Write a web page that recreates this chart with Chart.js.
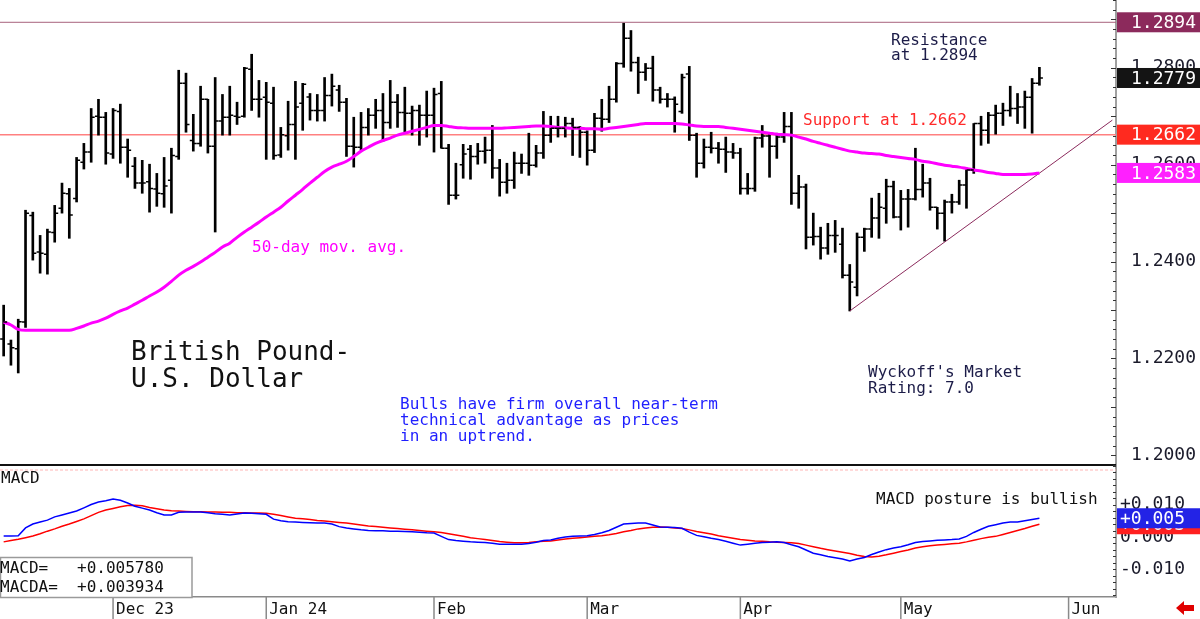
<!DOCTYPE html>
<html>
<head>
<meta charset="utf-8">
<title>British Pound - U.S. Dollar</title>
<script src="https://cdn.jsdelivr.net/npm/chart.js@4.4.1/dist/chart.umd.min.js"></script>
<style>
  html, body { margin: 0; padding: 0; background: #fff; }
</style>
</head>
<body>
<canvas id="myChart" width="1200" height="619"></canvas>
<script>
// ---- datos ---------------------------------------------------------------

// dias habiles desde el 10-nov-2023 (la escala sigue vacia hasta mediados de junio)
const firstDay = '2023-11-10';
const numSlots = 153;
const monthTicks = ['Dec 23', 'Jan 24', 'Feb', 'Mar', 'Apr', 'May', 'Jun'];
const priceTicks = [1.20, 1.22, 1.24, 1.26, 1.28];
const macdTicks = [-0.010, 0.000, 0.010];

const opens = [
  1.2240,1.2230,1.2220,1.2275,1.2495,1.2420,1.2415,1.2460,1.2510,1.2540,
  1.2530,1.2605,1.2626,1.2700,1.2698,1.2622,1.2710,1.2636,1.2597,1.2562,
  1.2565,1.2550,1.2540,1.2568,1.2617,1.2768,1.2650,1.2644,1.2735,1.2638,
  1.2690,1.2698,1.2700,1.2700,1.2797,1.2735,1.2739,1.2727,1.2620,1.2660,
  1.2683,1.2727,1.2740,1.2712,1.2712,1.2743,1.2754,1.2729,1.2638,1.2636,
  1.2677,1.2702,1.2712,1.2687,1.2729,1.2708,1.2706,1.2712,1.2702,1.2702,
  1.2747,1.2634,1.2537,1.2600,1.2632,1.2617,1.2628,1.2630,1.2593,1.2564,
  1.2568,1.2603,1.2603,1.2599,1.2624,1.2661,1.2675,1.2675,1.2685,1.2677,
  1.2667,1.2630,1.2696,1.2694,1.2735,1.2809,1.2861,1.2811,1.2791,1.2799,
  1.2754,1.2735,1.2735,1.2710,1.2787,1.2661,1.2603,1.2636,1.2634,1.2632,
  1.2626,1.2624,1.2551,1.2551,1.2655,1.2659,1.2638,1.2657,1.2679,1.2541,
  1.2554,1.2450,1.2452,1.2428,1.2454,1.2436,1.2372,1.2347,1.2450,1.2467,
  1.2490,1.2510,1.2555,1.2492,1.2529,1.2529,1.2549,1.2562,1.2512,1.2500,
  1.2523,1.2523,1.2558,1.2589,1.2685,1.2671,1.2702,1.2706,1.2712,1.2716,
  1.2719,1.2739,1.2768
];
const highs = [
  1.2310,1.2238,1.2281,1.2506,1.2502,1.2454,1.2467,1.2516,1.2562,1.2551,
  1.2615,1.2644,1.2716,1.2735,1.2708,1.2716,1.2725,1.2653,1.2615,1.2609,
  1.2601,1.2582,1.2615,1.2634,1.2795,1.2789,1.2704,1.2762,1.2735,1.2780,
  1.2745,1.2762,1.2729,1.2801,1.2828,1.2774,1.2770,1.2760,1.2677,1.2731,
  1.2772,1.2768,1.2747,1.2745,1.2780,1.2787,1.2764,1.2737,1.2698,1.2708,
  1.2716,1.2735,1.2747,1.2774,1.2745,1.2760,1.2721,1.2723,1.2752,1.2758,
  1.2772,1.2642,1.2603,1.2642,1.2640,1.2644,1.2657,1.2681,1.2611,1.2603,
  1.2626,1.2622,1.2665,1.2640,1.2710,1.2700,1.2700,1.2698,1.2696,1.2679,
  1.2670,1.2706,1.2735,1.2762,1.2811,1.2892,1.2877,1.2822,1.2809,1.2824,
  1.2760,1.2747,1.2740,1.2787,1.2803,1.2665,1.2653,1.2667,1.2646,1.2657,
  1.2644,1.2634,1.2582,1.2657,1.2681,1.2665,1.2665,1.2708,1.2708,1.2578,
  1.2560,1.2500,1.2471,1.2479,1.2485,1.2469,1.2394,1.2459,1.2469,1.2531,
  1.2541,1.2570,1.2566,1.2547,1.2549,1.2634,1.2601,1.2572,1.2512,1.2527,
  1.2539,1.2568,1.2593,1.2685,1.2700,1.2708,1.2723,1.2727,1.2762,1.2747,
  1.2752,1.2778,1.2801
];
const lows = [
  1.2205,1.2186,1.2170,1.2264,1.2403,1.2376,1.2374,1.2440,1.2500,1.2448,
  1.2523,1.2591,1.2605,1.2661,1.2601,1.2613,1.2603,1.2574,1.2551,1.2541,
  1.2502,1.2514,1.2512,1.2500,1.2611,1.2667,1.2628,1.2638,1.2624,1.2461,
  1.2661,1.2661,1.2683,1.2698,1.2712,1.2698,1.2611,1.2611,1.2615,1.2630,
  1.2611,1.2671,1.2692,1.2690,1.2690,1.2721,1.2710,1.2617,1.2595,1.2630,
  1.2661,1.2675,1.2648,1.2675,1.2677,1.2667,1.2661,1.2640,1.2657,1.2626,
  1.2634,1.2518,1.2529,1.2572,1.2570,1.2601,1.2603,1.2572,1.2535,1.2541,
  1.2551,1.2582,1.2578,1.2595,1.2613,1.2646,1.2657,1.2657,1.2619,1.2615,
  1.2599,1.2625,1.2669,1.2687,1.2729,1.2801,1.2793,1.2747,1.2774,1.2731,
  1.2727,1.2719,1.2667,1.2706,1.2650,1.2574,1.2593,1.2624,1.2603,1.2584,
  1.2613,1.2539,1.2539,1.2545,1.2636,1.2574,1.2613,1.2646,1.2518,1.2510,
  1.2426,1.2434,1.2405,1.2415,1.2419,1.2366,1.2298,1.2329,1.2421,1.2450,
  1.2448,1.2479,1.2490,1.2465,1.2471,1.2527,1.2533,1.2506,1.2467,1.2442,
  1.2500,1.2518,1.2510,1.2582,1.2640,1.2644,1.2663,1.2681,1.2700,1.2685,
  1.2675,1.2665,1.2764
];
const closes = [
  1.2275,1.2222,1.2276,1.2500,1.2417,1.2417,1.2461,1.2500,1.2541,1.2496,
  1.2609,1.2626,1.2698,1.2698,1.2624,1.2712,1.2636,1.2630,1.2562,1.2562,
  1.2551,1.2541,1.2556,1.2619,1.2768,1.2683,1.2644,1.2735,1.2638,1.2690,
  1.2698,1.2702,1.2698,1.2799,1.2735,1.2735,1.2729,1.2619,1.2662,1.2683,
  1.2719,1.2766,1.2712,1.2712,1.2743,1.2762,1.2729,1.2638,1.2636,1.2677,
  1.2702,1.2712,1.2687,1.2729,1.2708,1.2706,1.2712,1.2702,1.2702,1.2745,
  1.2634,1.2537,1.2537,1.2622,1.2617,1.2628,1.2630,1.2593,1.2564,1.2568,
  1.2603,1.2603,1.2599,1.2624,1.2661,1.2675,1.2675,1.2685,1.2677,1.2667,
  1.2630,1.2696,1.2694,1.2735,1.2809,1.2861,1.2811,1.2791,1.2799,1.2754,
  1.2735,1.2735,1.2725,1.2780,1.2661,1.2603,1.2636,1.2634,1.2632,1.2626,
  1.2624,1.2551,1.2551,1.2655,1.2659,1.2638,1.2657,1.2679,1.2541,1.2554,
  1.2450,1.2452,1.2428,1.2454,1.2454,1.2372,1.2358,1.2450,1.2467,1.2490,
  1.2512,1.2555,1.2492,1.2529,1.2529,1.2549,1.2562,1.2512,1.2500,1.2523,
  1.2523,1.2558,1.2589,1.2685,1.2671,1.2702,1.2706,1.2712,1.2716,1.2719,
  1.2739,1.2768,1.2779
];

// media movil de 50 dias
const ma50 = [
  1.2275,1.2269,1.2260,1.2258,1.2258,1.2258,1.2258,1.2258,1.2258,1.2258,
  1.2262,1.2267,1.2273,1.2277,1.2283,1.2291,1.2298,1.2304,1.2312,1.2320,
  1.2329,1.2337,1.2347,1.2359,1.2372,1.2382,1.2390,1.2399,1.2409,1.2419,
  1.2430,1.2438,1.2450,1.2461,1.2471,1.2481,1.2492,1.2502,1.2512,1.2525,
  1.2537,1.2549,1.2562,1.2574,1.2586,1.2595,1.2601,1.2607,1.2617,1.2628,
  1.2636,1.2644,1.2650,1.2655,1.2661,1.2665,1.2669,1.2673,1.2677,1.2681,
  1.2681,1.2679,1.2677,1.2676,1.2675,1.2675,1.2675,1.2675,1.2675,1.2676,
  1.2677,1.2678,1.2679,1.2680,1.2680,1.2679,1.2677,1.2676,1.2675,1.2675,
  1.2674,1.2674,1.2673,1.2675,1.2677,1.2679,1.2681,1.2683,1.2685,1.2685,
  1.2685,1.2685,1.2685,1.2684,1.2682,1.2680,1.2679,1.2679,1.2679,1.2677,
  1.2675,1.2673,1.2671,1.2669,1.2667,1.2665,1.2663,1.2662,1.2661,1.2657,
  1.2653,1.2648,1.2644,1.2640,1.2636,1.2632,1.2628,1.2626,1.2624,1.2623,
  1.2622,1.2619,1.2617,1.2615,1.2613,1.2611,1.2607,1.2605,1.2602,1.2599,
  1.2597,1.2595,1.2592,1.2589,1.2587,1.2584,1.2582,1.2580,1.2580,1.2580,
  1.2580,1.2581,1.2583
];

// MACD (azul) y MACDA (rojo)
const macd = [
  0.0003,0.0003,0.0004,0.0028,0.0040,0.0046,0.0052,0.0062,0.0068,0.0074,
  0.0080,0.0090,0.0100,0.0108,0.0112,0.0117,0.0113,0.0105,0.0095,0.0089,
  0.0083,0.0075,0.0068,0.0068,0.0076,0.0077,0.0077,0.0077,0.0075,0.0072,
  0.0070,0.0068,0.0071,0.0074,0.0073,0.0072,0.0070,0.0055,0.0050,0.0047,
  0.0046,0.0045,0.0044,0.0043,0.0043,0.0040,0.0032,0.0028,0.0025,0.0022,
  0.0020,0.0019,0.0019,0.0018,0.0018,0.0017,0.0016,0.0015,0.0013,0.0012,
  0.0002,-0.0008,-0.0011,-0.0013,-0.0015,-0.0016,-0.0017,-0.0019,-0.0022,-0.0022,
  -0.0022,-0.0022,-0.0020,-0.0016,-0.0011,-0.0009,-0.0004,0.0000,0.0002,0.0003,
  0.0004,0.0008,0.0013,0.0020,0.0030,0.0040,0.0042,0.0043,0.0043,0.0037,
  0.0031,0.0030,0.0029,0.0027,0.0015,0.0005,0.0001,-0.0004,-0.0008,-0.0013,
  -0.0019,-0.0025,-0.0022,-0.0019,-0.0017,-0.0016,-0.0015,-0.0017,-0.0024,-0.0030,
  -0.0040,-0.0050,-0.0055,-0.0060,-0.0064,-0.0068,-0.0074,-0.0068,-0.0063,-0.0054,
  -0.0046,-0.0039,-0.0034,-0.0030,-0.0024,-0.0017,-0.0014,-0.0012,-0.0010,-0.0009,
  -0.0008,-0.0006,0.0002,0.0014,0.0024,0.0033,0.0038,0.0043,0.0046,0.0046,
  0.0050,0.0054,0.005780
];
const macda = [
  -0.0015,-0.0011,-0.0007,-0.0002,0.0003,0.0010,0.0018,0.0025,0.0033,0.0040,
  0.0048,0.0056,0.0066,0.0076,0.0083,0.0088,0.0093,0.0097,0.0098,0.0096,
  0.0091,0.0087,0.0083,0.0081,0.0080,0.0079,0.0078,0.0078,0.0077,0.0077,
  0.0076,0.0076,0.0075,0.0075,0.0074,0.0074,0.0073,0.0070,0.0066,0.0062,
  0.0058,0.0056,0.0054,0.0051,0.0049,0.0047,0.0045,0.0043,0.0040,0.0037,
  0.0034,0.0032,0.0030,0.0028,0.0026,0.0024,0.0022,0.0020,0.0018,0.0016,
  0.0014,0.0010,0.0006,0.0002,-0.0002,-0.0005,-0.0008,-0.0011,-0.0014,-0.0016,
  -0.0018,-0.0018,-0.0017,-0.0015,-0.0013,-0.0012,-0.0009,-0.0006,-0.0004,-0.0002,
  0.0000,0.0002,0.0004,0.0007,0.0011,0.0016,0.0020,0.0025,0.0028,0.0030,
  0.0031,0.0030,0.0028,0.0026,0.0022,0.0017,0.0013,0.0009,0.0004,0.0000,
  -0.0004,-0.0008,-0.0010,-0.0012,-0.0013,-0.0015,-0.0016,-0.0017,-0.0018,-0.0020,
  -0.0025,-0.0030,-0.0035,-0.0039,-0.0043,-0.0047,-0.0051,-0.0056,-0.0060,-0.0062,
  -0.0059,-0.0055,-0.0050,-0.0045,-0.0040,-0.0034,-0.0030,-0.0027,-0.0025,-0.0023,
  -0.0021,-0.0019,-0.0015,-0.0010,-0.0005,-0.0001,0.0002,0.0008,0.0014,0.0020,
  0.0026,0.0033,0.003934
];

// niveles y linea de tendencia (indice del dia, precio)
const resistance = 1.2894;
const support = 1.2662;
const trendPts = [[116, 1.2298], [152, 1.2692]];

// ---- ejes de fechas ------------------------------------------------------
const days = [];
const d0 = new Date(firstDay + 'T00:00:00Z');
while (days.length < numSlots) {
    const wd = d0.getUTCDay();
    if (wd !== 0 && wd !== 6) days.push(d0.toISOString().slice(0, 10));
    d0.setUTCDate(d0.getUTCDate() + 1);
}
const monthAt = {};
let mi = 0;
days.forEach((d, i) => {
    if (i > 0 && d.slice(5, 7) !== days[i - 1].slice(5, 7)) monthAt[i] = monthTicks[mi++];
});

// textos sobre el grafico
const MONO = "'DejaVu Sans Mono', monospace";
const notes = [
    { text: 'Resistance', x: 891, y: 45, color: '#1c1c48' },
    { text: 'at 1.2894', x: 891, y: 60, color: '#1c1c48' },
    { text: 'Support at 1.2662', x: 803, y: 125, color: '#ff2a2a' },
    { text: '50-day mov. avg.', x: 252, y: 252, color: '#ff00ff' },
    { text: 'Bulls have firm overall near-term', x: 400, y: 409, color: '#1f1fff' },
    { text: 'technical advantage as prices', x: 400, y: 425, color: '#1f1fff' },
    { text: 'in an uptrend.', x: 400, y: 441, color: '#1f1fff' },
    { text: "Wyckoff's Market", x: 868, y: 377, color: '#1c1c48' },
    { text: 'Rating: 7.0', x: 868, y: 393, color: '#1c1c48' },
    { text: 'MACD posture is bullish', x: 876, y: 504, color: '#111' },
    { text: 'MACD', x: 1, y: 483, color: '#111' }
];
const titleLines = ['British Pound-', 'U.S. Dollar'];

// ---- plugin: barras OHLC, lineas, etiquetas ------------------------------
const hline = (c, x1, x2, y, color, w) => {
    c.strokeStyle = color; c.lineWidth = w;
    c.beginPath(); c.moveTo(x1, y); c.lineTo(x2, y); c.stroke();
};

const decor = {
    id: 'decor',
    beforeDatasetsDraw(chart) {
        const c = chart.ctx, a = chart.chartArea, y = chart.scales.y, y2 = chart.scales.y2;
        c.save();
        hline(c, a.left, a.right, y.getPixelForValue(resistance), '#a8627c', 1);
        hline(c, a.left, a.right, y.getPixelForValue(support), '#ff8080', 1.5);
        c.setLineDash([3, 2]);
        hline(c, a.left, a.right, y2.top + 5, '#ffb4b4', 1);
        c.restore();
    },
    afterDatasetsDraw(chart) {
        // ticks de apertura (izq) y cierre (der)
        const c = chart.ctx, y = chart.scales.y;
        const meta = chart.getDatasetMeta(0);
        c.save();
        c.strokeStyle = '#000';
        c.lineWidth = 1.5;
        c.beginPath();
        meta.data.forEach((bar, i) => {
            const yo = y.getPixelForValue(opens[i]);
            const yc = y.getPixelForValue(closes[i]);
            c.moveTo(bar.x - 3.5, yo); c.lineTo(bar.x, yo);
            c.moveTo(bar.x, yc); c.lineTo(bar.x + 3.5, yc);
        });
        c.stroke();
        c.restore();
    },
    afterDraw(chart) {
        const c = chart.ctx, a = chart.chartArea;
        const x = chart.scales.x, y = chart.scales.y, y2 = chart.scales.y2;
        c.save();

        // separador entre paneles
        hline(c, a.left, a.right, y.bottom, '#111', 2);

        // separadores de meses
        c.strokeStyle = '#8a8a8a'; c.lineWidth = 1.5;
        Object.keys(monthAt).forEach(i => {
            const px = x.getPixelForValue(+i);
            c.beginPath(); c.moveTo(px, x.top); c.lineTo(px, chart.height); c.stroke();
        });

        // marcas menores del eje derecho
        c.strokeStyle = '#333'; c.lineWidth = 1;
        c.beginPath();
        for (let i = Math.ceil(y.min / 0.002); i * 0.002 <= y.max; i++) {
            const py = Math.round(y.getPixelForValue(i * 0.002)) + 0.5;
            const len = i % 5 === 0 ? 5 : 3;
            c.moveTo(a.right - len, py); c.lineTo(a.right, py);
        }
        for (let i = Math.ceil(y2.min / 0.002); i * 0.002 <= y2.max; i++) {
            const py = Math.round(y2.getPixelForValue(i * 0.002)) + 0.5;
            c.moveTo(a.right - 3, py); c.lineTo(a.right, py);
        }
        c.stroke();

        // recuadros de valores
        const tag = (scale, v, bg, text, tx) => {
            const py = scale.getPixelForValue(v);
            c.fillStyle = bg;
            c.fillRect(a.right + 1, py - 10, chart.width - a.right - 1, 20);
            c.fillStyle = '#fff';
            c.font = '18px ' + MONO;
            c.textAlign = 'left'; c.textBaseline = 'middle';
            c.fillText(text, tx, py + 1);
        };
        const lastClose = closes[closes.length - 1];
        const lastMa = ma50[ma50.length - 1];
        const lastMacd = macd[macd.length - 1];
        const lastMacda = macda[macda.length - 1];
        const trunc3 = v => (v >= 0 ? '+' : '-') + (Math.floor(Math.abs(v) * 1000) / 1000).toFixed(3);
        tag(y, resistance, '#8c2a5c', resistance.toFixed(4), a.right + 15);
        tag(y, lastClose, '#141414', lastClose.toFixed(4), a.right + 15);
        tag(y, support, '#ff2a1f', support.toFixed(4), a.right + 15);
        tag(y, lastMa, '#ff20ff', lastMa.toFixed(4), a.right + 15);
        tag(y2, lastMacda, '#ff2020', trunc3(lastMacda), a.right + 4);
        tag(y2, lastMacd, '#2323e6', trunc3(lastMacd), a.right + 4);

        // textos
        c.textAlign = 'left'; c.textBaseline = 'alphabetic';
        c.font = '16px ' + MONO;
        notes.forEach(n => { c.fillStyle = n.color; c.fillText(n.text, n.x, n.y); });
        c.font = '26px ' + MONO;
        c.fillStyle = '#111';
        titleLines.forEach((t, i) => c.fillText(t, 131, 360 + i * 27));

        // recuadro con los valores del MACD
        c.fillStyle = '#fff';
        c.fillRect(0, 557, 192, 40);
        c.strokeStyle = '#9a9a9a'; c.lineWidth = 1.5;
        c.strokeRect(0.5, 557.5, 191.5, 40);
        c.font = '16px ' + MONO;
        c.fillStyle = '#111';
        c.fillText('MACD=   +' + lastMacd.toFixed(6), 0, 573);
        c.fillText('MACDA=  +' + lastMacda.toFixed(6), 0, 592);

        // flecha roja abajo a la derecha
        c.fillStyle = '#e00000';
        c.beginPath();
        c.moveTo(1176, 608); c.lineTo(1184, 601); c.lineTo(1184, 605);
        c.lineTo(1194, 605); c.lineTo(1194, 611); c.lineTo(1184, 611);
        c.lineTo(1184, 615); c.closePath(); c.fill();

        c.restore();
    }
};

// ---- grafico ---------------------------------------------------------------
Chart.defaults.font.family = MONO;
Chart.defaults.color = '#1a1a1a';

const ctx = document.getElementById('myChart');
var myChart = new Chart(ctx, {
    type: 'bar',
    data: {
        labels: days,
        datasets: [
            {
                type: 'bar',
                label: 'GBP/USD',
                data: lows.map((l, i) => [l, highs[i]]),
                yAxisID: 'y',
                backgroundColor: '#000',
                barThickness: 2,
                order: 3
            },
            {
                type: 'line',
                label: '50-day mov. avg.',
                data: ma50,
                yAxisID: 'y',
                borderColor: '#ff00ff',
                borderWidth: 3,
                pointRadius: 0,
                cubicInterpolationMode: 'monotone',
                order: 1
            },
            {
                type: 'line',
                label: 'trend',
                data: trendPts.map(p => ({ x: days[p[0]], y: p[1] })),
                yAxisID: 'y',
                borderColor: '#8b2a5c',
                borderWidth: 1,
                pointRadius: 0,
                order: 1
            },
            {
                type: 'line',
                label: 'MACDA',
                data: macda,
                yAxisID: 'y2',
                borderColor: '#ff0000',
                borderWidth: 1.5,
                pointRadius: 0,
                order: 2
            },
            {
                type: 'line',
                label: 'MACD',
                data: macd,
                yAxisID: 'y2',
                borderColor: '#0000ff',
                borderWidth: 1.5,
                pointRadius: 0,
                order: 1
            }
        ]
    },
    options: {
        responsive: false,
        animation: false,
        devicePixelRatio: 1,
        layout: { padding: 0 },
        plugins: {
            legend: { display: false },
            tooltip: { enabled: false }
        },
        scales: {
            x: {
                type: 'category',
                offset: true,
                grid: { display: false, drawTicks: false },
                border: { color: '#8a8a8a', width: 1.5 },
                ticks: {
                    autoSkip: false,
                    maxRotation: 0,
                    minRotation: 0,
                    align: 'start',
                    labelOffset: 3,
                    padding: 3,
                    color: '#111',
                    font: { size: 16 },
                    callback: (v, i) => monthAt[i] || ''
                },
                afterFit: s => { s.height = 22; s.paddingLeft = 0; s.paddingRight = 0; }
            },
            y: {
                position: 'right',
                stack: 'panes',
                stackWeight: 465,
                min: 1.1980,
                max: 1.2940,
                grid: { display: false, drawTicks: false },
                border: { color: '#a0a0a0', width: 2 },
                ticks: {
                    padding: 15,
                    color: '#1a1a2a',
                    font: { size: 18 },
                    callback: v => v.toFixed(4)
                },
                afterBuildTicks: s => { s.ticks = priceTicks.map(v => ({ value: v })); },
                afterFit: s => { s.width = 84; s.paddingTop = 0; s.paddingBottom = 0; }
            },
            y2: {
                position: 'right',
                stack: 'panes',
                stackWeight: 132,
                min: -0.0185,
                max: 0.0222,
                grid: { display: false, drawTicks: false },
                border: { color: '#a0a0a0', width: 2 },
                ticks: {
                    padding: 4,
                    color: '#1a1a2a',
                    font: { size: 18 },
                    callback: v => (v > 0 ? '+' : '') + v.toFixed(3)
                },
                afterBuildTicks: s => { s.ticks = macdTicks.map(v => ({ value: v })); },
                afterFit: s => { s.width = 84; s.paddingTop = 0; s.paddingBottom = 0; }
            }
        }
    },
    plugins: [decor]
});
</script>
</body>
</html>
